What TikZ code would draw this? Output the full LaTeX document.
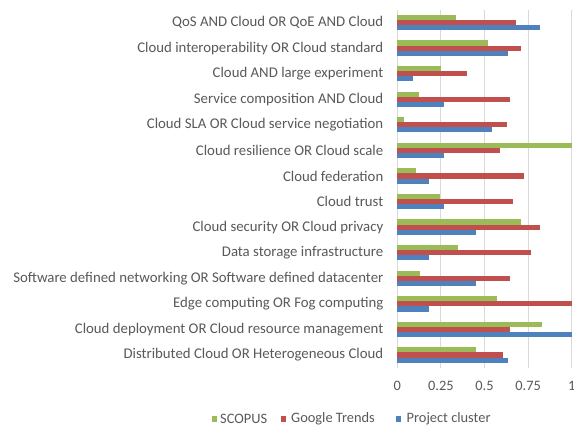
\documentclass[tikz,border=0pt]{standalone}
\usepackage{fontspec}
\setmainfont{Carlito}
\definecolor{sgreen}{HTML}{9BBB59}
\definecolor{sred}{HTML}{C0504D}
\definecolor{sblue}{HTML}{4F81BD}
\definecolor{txt}{HTML}{595959}
\definecolor{grid}{HTML}{D9D9D9}
\begin{document}
\begin{tikzpicture}[x=1pt,y=-1pt,
  lbl/.style={font=\fontsize{14.4}{16}\selectfont, text=txt, inner sep=0pt},
  catlbl/.style={font=\fontsize{14.8}{16}\selectfont, text=txt, inner sep=0pt, anchor=east},
  gridline/.style={draw=grid, line width=1pt},
  bar/.style={draw=none}]
\useasboundingbox[fill=white] (0,0) rectangle (574,430);
\def\xz{397.3}\def\sc{174.4}\def\ytop{22.5}\def\dy{25.58}\def\bh{5.1}
% grid
\foreach \v/\n in {0.25/a,0.5/b,0.75/c,1/d}
  \draw[gridline] ({\xz+\v*\sc},9.7) -- ({\xz+\v*\sc},367.8);
\draw[gridline] (\xz,9.7) -- (\xz,367.8);
% data: index / green / red / blue / label
\foreach \i/\g/\r/\b/\t in {
 0/0.337/0.679/0.818/{QoS AND Cloud OR QoE AND Cloud},
 1/0.52/0.707/0.636/{Cloud interoperability OR Cloud standard},
 2/0.25/0.40/0.088/{Cloud AND large experiment},
 3/0.126/0.646/0.27/{Service composition AND Cloud},
 4/0.04/0.629/0.545/{Cloud SLA OR Cloud service negotiation},
 5/1.0/0.59/0.27/{Cloud resilience OR Cloud scale},
 6/0.105/0.728/0.18/{Cloud federation},
 7/0.245/0.663/0.27/{Cloud trust},
 8/0.709/0.818/0.453/{Cloud security OR Cloud privacy},
 9/0.346/0.768/0.18/{Data storage infrastructure},
 10/0.13/0.646/0.453/{Software defined networking OR Software defined datacenter},
 11/0.57/1.0/0.18/{Edge computing OR Fog computing\ },
 12/0.828/0.646/1.0/{Cloud deployment OR Cloud resource management\ },
 13/0.453/0.604/0.636/{Distributed Cloud OR Heterogeneous Cloud}}{
  \pgfmathsetmacro{\yc}{\ytop+\i*\dy}
  \fill[sgreen] (\xz,{\yc-1.5*\bh}) rectangle ({\xz+\g*\sc},{\yc-0.5*\bh});
  \fill[sred] (\xz,{\yc-0.5*\bh}) rectangle ({\xz+\r*\sc},{\yc+0.5*\bh});
  \fill[sblue] (\xz,{\yc+0.5*\bh}) rectangle ({\xz+\b*\sc},{\yc+1.5*\bh});
  \node[catlbl] (cat\i) at (383.5,\yc) {\t};
}
% tick labels
\foreach \v/\s/\n in {0/0/t0,0.25/0.25/t1,0.5/0.5/t2,0.75/0.75/t3,1/1/t4}
  \node[lbl] (\n) at ({\xz+\v*\sc},386) {\s};
% legend
\fill[sgreen] (211.5,416.5) rectangle (217,422);
\node[lbl, anchor=west] (lg1) at (220,419) {SCOPUS};
\fill[sred] (280.5,416.5) rectangle (286,422);
\node[lbl, anchor=west] (lg2) at (291,419) {Google Trends};
\fill[sblue] (395.5,416.5) rectangle (401,422);
\node[lbl, anchor=west] (lg3) at (406.5,419) {Project cluster};
\end{tikzpicture}
\end{document}
